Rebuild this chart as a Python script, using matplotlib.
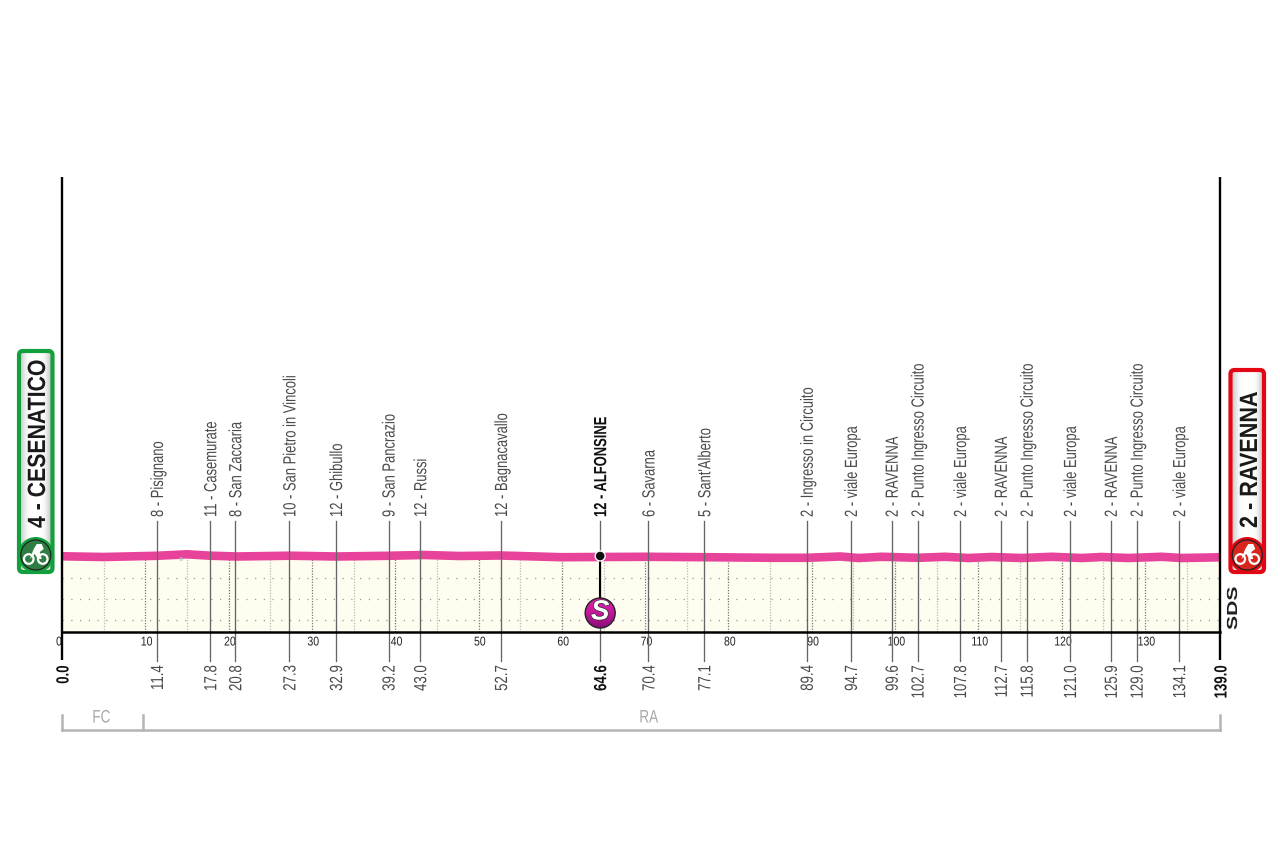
import numpy as np
import matplotlib
matplotlib.use("Agg")
import matplotlib.pyplot as plt
from matplotlib.patches import FancyBboxPatch, Circle, Polygon
from matplotlib.transforms import Affine2D
import matplotlib.patheffects as pe

plt.rcParams['font.family'] = ['Liberation Sans', 'DejaVu Sans']

# ---- data ----
KM_TOTAL = 139.0
profile_km = [0, 5, 11.4, 15, 17.8, 21, 27.4, 33, 39.2, 43.4, 47.8, 52.6, 60, 64.6, 70.2, 77.4, 85.4,
              89.4, 93.4, 95.6, 98.4, 102.8, 106, 108.8, 111.6, 115.2, 118.8, 122.4, 124.8, 128,
              132, 134.4, 139]
profile_alt = [151.7, 150, 152.9, 156.4, 153.1, 151.2, 153.1, 151.2, 152.9, 154.8, 152.4, 153.6, 149.5,
               150, 150.5, 149.5, 148.1, 148.1, 151.2, 147.6, 150.5, 148.1, 150.5, 147.6, 150,
               147.6, 150.5, 147.6, 150, 147.6, 150.5, 147.6, 149.3]
grid_alt = [0, 50, 100]
place_km = [11.4, 17.8, 20.8, 27.3, 32.9, 39.2, 43.0, 52.7, 64.6, 70.4, 77.1, 89.4, 94.7, 99.6,
            102.7, 107.8, 112.7, 115.8, 121.0, 125.9, 129.0, 134.1]
place_names = ["8 - Pisignano", "11 - Casemurate", "8 - San Zaccaria", "10 - San Pietro in Vincoli",
               "12 - Ghibullo", "9 - San Pancrazio", "12 - Russi", "12 - Bagnacavallo",
               "12 - ALFONSINE", "6 - Savarna", "5 - Sant'Alberto", "2 - Ingresso in Circuito",
               "2 - viale Europa", "2 - RAVENNA", "2 - Punto Ingresso Circuito", "2 - viale Europa",
               "2 - RAVENNA", "2 - Punto Ingresso Circuito", "2 - viale Europa", "2 - RAVENNA",
               "2 - Punto Ingresso Circuito", "2 - viale Europa"]
sprint_km = 64.6
km_ticks = list(range(0, 139, 10))
grid_km = list(range(5, 139, 5))
start_label = "4 - CESENATICO"
finish_label = "2 - RAVENNA"
region_names = ["FC", "RA"]
region_starts = [0.0, 9.7]
region_label_km = [4.7, 70.4]

# ---- frame ----
W, H = 1280, 852
X0, X1, BASE = 62, 1220, 632
sx = (X1 - X0) / KM_TOTAL
PX_PER_M = 0.42
Y_ZERO = 620


def kx(km):
    return X0 + sx * km


class Squeeze(pe.AbstractPathEffect):
    """Condense a text along its own direction (no narrow font is installed)."""

    def __init__(self, f, anchor='start'):
        super().__init__()
        self.f, self.anchor = f, anchor

    def draw_path(self, renderer, gc, tpath, affine, rgbFace=None):
        ext = tpath.get_extents()
        c = {'start': 0.0, 'center': (ext.x0 + ext.x1) / 2, 'end': ext.x1}[self.anchor]
        a = Affine2D().translate(-c, 0).scale(self.f, 1).translate(c, 0) + affine
        renderer.draw_path(gc, tpath, a, rgbFace)


def label(x, y, s, size, f, anchor='start', color='#4a4a4a', weight='normal', zorder=6):
    ha = {'start': 'left', 'end': 'right', 'center': 'center'}[anchor]
    t = ov.text(x, y, s, rotation=90, rotation_mode='anchor', ha=ha, va='baseline', fontsize=size,
                color=color, fontweight=weight, zorder=zorder)
    t.set_path_effects([Squeeze(f, anchor)])
    return t


fig = plt.figure(figsize=(12.8, 8.52), dpi=100, facecolor='white')
ax = fig.add_axes([0, 0, 1, 1])
ax.set_xlim(-X0 / sx, (W - X0) / sx)
ax.set_ylim((Y_ZERO - H) / PX_PER_M, Y_ZERO / PX_PER_M)
ax.axis('off')
base_alt = (Y_ZERO - BASE) / PX_PER_M

# fill, grid, road
ax.fill_between(profile_km, profile_alt, base_alt, color='#FFFDF0', lw=0, zorder=1)
for a in grid_alt:
    ax.plot([0, KM_TOTAL], [a, a], color='#999999', lw=0.9, ls=(0, (1, 6)), zorder=2)
for k in grid_km:
    top = np.interp(k, profile_km, profile_alt)
    major = k % 10 == 0
    ax.plot([k, k], [base_alt, top], color='#777777' if major else '#bbbbbb', lw=0.9,
            ls=(0, (1, 1.2)), zorder=2)
ax.plot(profile_km, profile_alt, color='#E8439A', lw=6.2, solid_capstyle='butt',
        solid_joinstyle='round', zorder=3)

# overlay in pixels for all furniture
ov = fig.add_axes([0, 0, 1, 1], facecolor='none')
ov.set_xlim(0, W)
ov.set_ylim(H, 0)
ov.axis('off')

ov.plot([X0, X0], [177, 660], color='black', lw=1.7, zorder=5, solid_capstyle='butt')
ov.plot([X1, X1], [177, 660], color='black', lw=1.7, zorder=5, solid_capstyle='butt')
ov.plot([X0, X1], [BASE, BASE], color='black', lw=1.8, zorder=5)

for k in km_ticks:
    t = ov.text(kx(k) + 1.3 if k else kx(k) - 3, 642.5, str(k), ha='center', va='center',
                fontsize=9.2, color='#222222')
    t.set_path_effects([Squeeze(0.82, 'center')])

# places
for k, name in zip(place_km, place_names):
    x = kx(k)
    main = k == sprint_km
    col = '#111111' if main else '#4a4a4a'
    w = 'bold' if main else 'normal'
    ov.plot([x, x], [521, 661], color='#666666', lw=0.95, zorder=4)
    label(x + 6, 517, name, 12.7, 0.735, 'start', col, w)
    label(x + 6, 665, f"{k:.1f}", 12.7, 0.75, 'end', col, w)
for x, v in ((X0, 0.0), (X1, KM_TOTAL)):
    label(x + 6.5, 665, f"{v:.1f}", 12.7, 0.75, 'end', '#111111', 'bold')

# sprint
sxp = kx(sprint_km)
ov.plot([sxp, sxp], [556, 600], color='black', lw=1.5, zorder=6)
ov.add_patch(Circle((sxp, 556), 5, fc='#111111', ec='white', lw=1, zorder=7))
grad = np.linspace(0, 1, 64)[:, None]
cm = matplotlib.colors.LinearSegmentedColormap.from_list('s', ['#E620A8', '#C4189A', '#8A0E78'])
im = ov.imshow(grad, cmap=cm, extent=(sxp - 15, sxp + 15, 628, 598), aspect='auto', zorder=7)
im.set_clip_path(Circle((sxp, 613), 15, transform=ov.transData))
ov.add_patch(Circle((sxp, 613), 15, fc='none', ec='#222222', lw=1, zorder=8))
t = ov.text(sxp, 612.5, "S", ha='center', va='center', fontsize=20, color='white', fontweight='bold',
            fontstyle='italic', zorder=9)
t.set_path_effects([pe.withStroke(linewidth=1.0, foreground='#333333')])
ov.add_patch(Circle((kx(14.3), 559), 1.3, fc='none', ec='#bbbbbb', lw=0.7, zorder=3))


# end boxes
def box(x0, x1, y0, y1, edge, text, disc, base_x, f):
    g = np.array([[0.80, 0.97, 1.0, 1.0, 1.0, 0.96, 0.76]])
    style = "round,pad=0,rounding_size=4"
    im = ov.imshow(g, cmap='gray', vmin=0, vmax=1, extent=(x0, x1, y1, y0), aspect='auto',
                   interpolation='bicubic', zorder=5)
    im.set_clip_path(FancyBboxPatch((x0, y0), x1 - x0, y1 - y0, boxstyle=style, transform=ov.transData))
    ov.add_patch(FancyBboxPatch((x0, y0), x1 - x0, y1 - y0, boxstyle=style, fc='none', ec=edge,
                                lw=3.0, zorder=6))
    xm = (x0 + x1) / 2
    label(base_x, 528, text, 18, f, 'start', '#1a1a1a', 'bold', zorder=7)
    cy = y1 - 17
    ov.add_patch(Circle((xm, cy), 18, fc=edge, ec='none', zorder=7))
    ov.add_patch(Circle((xm, cy), 15, fc=disc, ec='#222222', lw=0.9, zorder=8))
    for dx in (-7, 7):
        ov.add_patch(Circle((xm + dx, cy + 4), 4.8, fc='none', ec='white', lw=1.6, zorder=9))
    ov.add_patch(Polygon([(xm - 6, cy + 4), (xm - 2, cy - 6), (xm + 1, cy - 11), (xm + 6, cy - 11),
                          (xm + 8, cy - 6), (xm + 4, cy - 3), (xm + 6, cy + 4), (xm + 2, cy + 4),
                          (xm - 1, cy - 1)], fc='white', ec='none', zorder=9))


box(19, 52.5, 351, 572, '#11A03C', start_label, '#2E7D43', 45, 0.85)
box(1230.5, 1264, 370, 572, '#E30613', finish_label, '#D8261C', 1257, 0.865)

label(1237, 630, "SDS", 10.5, 1.45, 'start', '#222222', 'bold')

# regions
GR = '#b4b4b8'
ov.plot([X0, X1], [729.5, 729.5], color=GR, lw=1.8, zorder=3, solid_capstyle='projecting')
for a in region_starts + [KM_TOTAL]:
    ov.plot([kx(a), kx(a)], [715, 730], color=GR, lw=1.8, zorder=3)
for name, k in zip(region_names, region_label_km):
    t = ov.text(kx(k), 718, name, ha='center', va='center', fontsize=13, color='#a8a8ac')
    t.set_path_effects([Squeeze(0.75, 'center')])

fig.savefig('out.png', dpi=100, facecolor='white')
